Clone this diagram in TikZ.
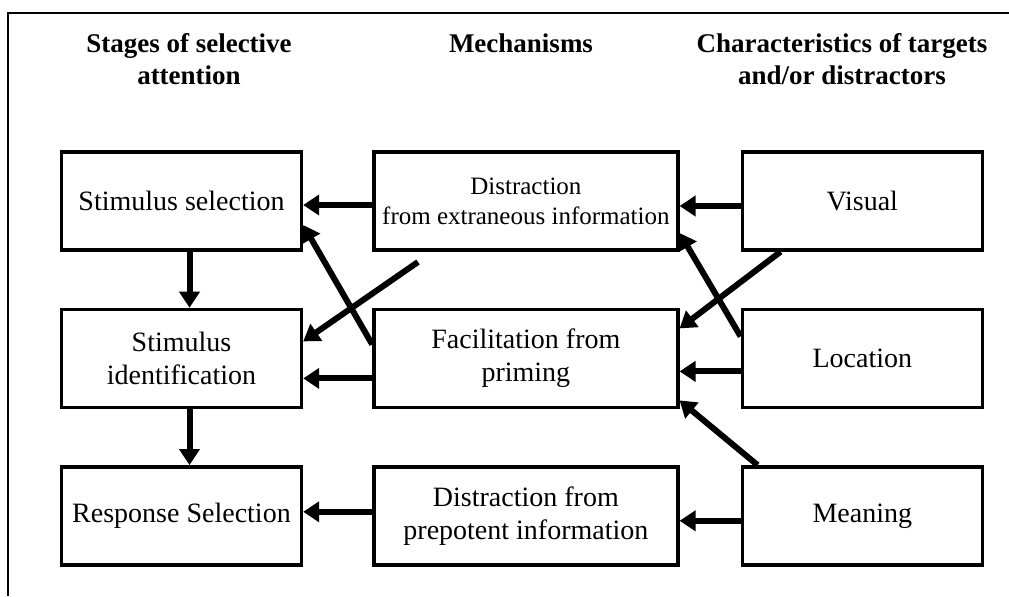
\documentclass[tikz,border=0pt]{standalone}
\usepackage{fontspec}
\setmainfont{Liberation Serif}
\usepackage{tikz}
\usetikzlibrary{arrows.meta,positioning,calc}

\begin{document}
\begin{tikzpicture}[x=0.5pt,y=-0.5pt]
\tikzset{
     box/.style={draw, line width=1.7pt, align=center, inner xsep=1pt,
                 minimum height=49pt, font=\fontsize{14}{16.5}\selectfont},
     narrow/.style={box, minimum width=120pt},
     wide/.style={box, minimum width=152pt},
     small/.style={font=\fontsize{12.5}{15}\selectfont},
     heading/.style={align=center, font=\fontsize{13.5}{16}\selectfont\bfseries},
     link/.style={line width=3pt, -{Triangle[length=8pt,width=10pt]}}}

\useasboundingbox (0,0) rectangle (1009,596);

% The frame
\draw[line width=1pt] (8,596) -- (8,13) -- (1009,13);

% The headings
\node (hstages) [heading] at (189,59) {Stages of selective\\attention};
\node (hmech)   [heading] at (521,43) {Mechanisms};
\node (hchar)   [heading] at (842,59) {Characteristics of targets\\and/or distractors};

% The boxes
\node (stimsel)  [narrow] at (181.5,201) {Stimulus selection};
\node (stimid)   [narrow, below=28pt of stimsel] {Stimulus\\identification};
\node (respsel)  [narrow, below=28pt of stimid] {Response Selection};

\node (distext)  [wide, small, right=34.5pt of stimsel] {Distraction\\from extraneous information};
\node (facil)    [wide, right=34.5pt of stimid] {Facilitation from\\priming};
\node (distpre)  [wide, right=34.5pt of respsel] {Distraction from\\prepotent information};

\node (visual)   [narrow, right=30.5pt of distext] {Visual};
\node (location) [narrow, right=30.5pt of facil] {Location};
\node (meaning)  [narrow, right=30.5pt of distpre] {Meaning};

\coordinate (dstart) at (418,262);

% The arrows
\draw[link] ([xshift=4pt]stimsel.south) -- ([xshift=4pt]stimid.north);
\draw[link] ([xshift=4pt]stimid.south) -- ([xshift=4pt]respsel.north);

\draw[link] ([yshift=-2pt]distext.west) -- ([yshift=-2pt]distext.west -| stimsel.east);
\draw[link] ([yshift=-10pt]facil.west) -- ([yshift=-10pt]facil.west -| stimid.east);
\draw[link] ([yshift=7pt]facil.west) -- ([yshift=-12pt]stimsel.east);
\draw[link] (dstart) -- ([yshift=8.5pt]stimid.east);
\draw[link] ([yshift=2pt]distpre.west) -- ([yshift=2pt]distpre.west -| respsel.east);

\draw[link] ([yshift=-2.5pt]visual.west) -- ([yshift=-2.5pt]visual.west -| distext.east);
\draw[link] ([xshift=20pt]visual.south west) -- ([yshift=15pt]facil.east);
\draw[link] ([yshift=11pt]location.west) -- ([yshift=-16pt]distext.east);
\draw[link] ([yshift=-6.5pt]location.west) -- ([yshift=-6.5pt]location.west -| facil.east);
\draw[link] ([xshift=8.5pt]meaning.north west) -- ([yshift=-21pt]facil.east);
\draw[link] ([yshift=-2.5pt]meaning.west) -- ([yshift=-2.5pt]meaning.west -| distpre.east);
\end{tikzpicture}
\end{document}
